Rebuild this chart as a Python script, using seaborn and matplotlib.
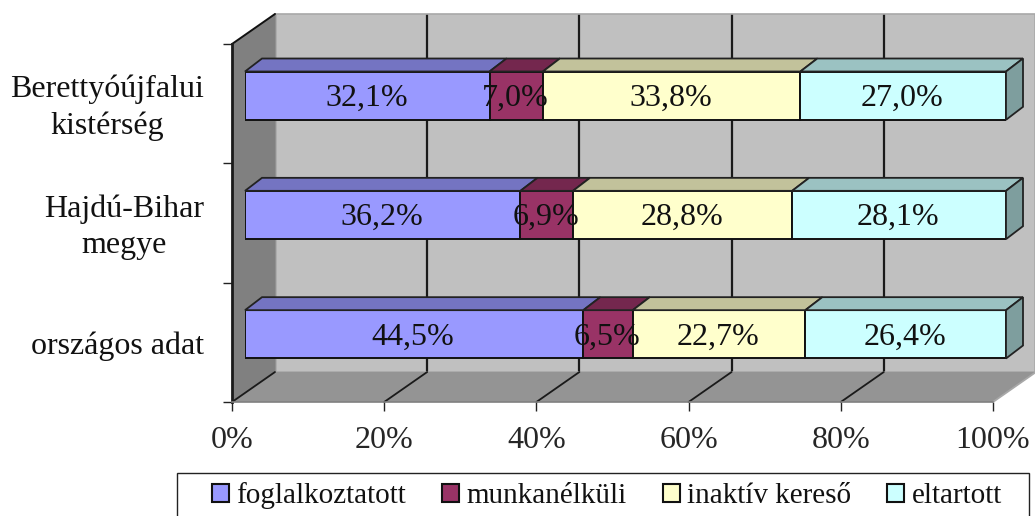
import matplotlib.pyplot as plt
import numpy as np
import seaborn as sns
from matplotlib.patches import Patch, Polygon, Rectangle
from matplotlib.transforms import IdentityTransform

categories = ['Berettyóújfalui\nkistérség', 'Hajdú-Bihar\nmegye', 'országos adat']
foglalkoztatott = [32.1, 36.2, 44.5]
munkanelkuli = [7.0, 6.9, 6.5]
inaktiv = [33.8, 28.8, 22.7]
eltartott = [27.0, 28.1, 26.4]
series_names = ['foglalkoztatott', 'munkanélküli', 'inaktív kereső', 'eltartott']
series_colors = ['#9999FF', '#993366', '#FFFFCC', '#CCFFFF']
x_ticks = [0, 20, 40, 60, 80, 100]

W, H = 1035, 516
WALL = (43, 30)  # depth of the whole box in px
BAR_SHIFT = (13, 8)  # bar front face relative to the front plane
BAR_DEPTH = (17, 13)

sns.set_theme(style='white')
plt.rcParams['font.family'] = ['Liberation Serif', 'DejaVu Serif']
plt.rcParams['text.color'] = '#111111'

fig = plt.figure(figsize=(W / 100, H / 100), dpi=100)


def make_axes(dx, dy, zorder):
    a = fig.add_axes([(232 + dx) / W, (114 + dy) / H, 761 / W, 358 / H], zorder=zorder)
    a.set_xlim(0, 100)
    a.set_ylim(2.5, -0.5)
    return a


# back wall with the gridlines
wall = make_axes(WALL[0], WALL[1], 1)
wall.set_facecolor('#C0C0C0')
wall.set_xticks(x_ticks)
wall.set_yticks([])
wall.tick_params(labelbottom=False, length=0)
wall.grid(axis='x', color='#1A1A1A', lw=1.6)
for s in wall.spines.values():
    s.set_color('#A8A8A8')
    s.set_linewidth(1.2)

# front plane: axis labels, ticks, floor and side wall
ax = make_axes(0, 0, 2)
ax.patch.set_alpha(0)
sns.despine(ax=ax, top=True, right=True)
ax.spines['left'].set_color('#1A1A1A')
ax.spines['left'].set_linewidth(2)
ax.spines['bottom'].set_color('#808080')
ax.spines['bottom'].set_linewidth(1.2)
ax.set_xticks(x_ticks)
ax.set_xticklabels([f'{t}%' for t in x_ticks])
ax.set_yticks([-0.5, 0.5, 1.5, 2.5])
ax.set_yticklabels([])
ax.tick_params(axis='both', which='major', length=6.5, width=1, color='#222222',
               bottom=True, left=True, labelsize=23, pad=10.5)
for y, label in zip([0, 1, 2], categories):
    ax.annotate(label, (0, y), xytext=(-20, -3), textcoords='offset points', ha='right', va='center',
                multialignment='center', fontsize=23, linespacing=1.3, annotation_clip=False)

x0, y0 = ax.transData.transform((0, 2.5))
x1, y1 = ax.transData.transform((100, 2.5))
xt, yt = ax.transData.transform((0, -0.5))
ax.add_patch(Polygon([(x0, y0), (x1, y1), (x1 + WALL[0], y1 + WALL[1]), (x0 + WALL[0], y0 + WALL[1])],
                     transform=IdentityTransform(), fc='#949494', ec='none', clip_on=False))
ax.add_patch(Polygon([(x0, y0), (xt, yt), (xt + WALL[0], yt + WALL[1]), (x0 + WALL[0], y0 + WALL[1])],
                     transform=IdentityTransform(), fc='#808080', ec='none', clip_on=False))
ax.plot([xt, xt + WALL[0]], [yt, yt + WALL[1]], color='#111111', lw=1.4, transform=IdentityTransform(), clip_on=False)
for t in x_ticks:
    xa, ya = ax.transData.transform((t, 2.5))
    ax.plot([xa, xa + WALL[0]], [ya, ya + WALL[1]], color='#1A1A1A' if t < 100 else '#A8A8A8', lw=1.3,
            transform=IdentityTransform(), clip_on=False)

# bars
bars = make_axes(BAR_SHIFT[0], BAR_SHIFT[1], 3)
bars.patch.set_alpha(0)

values = np.array([foglalkoztatott, munkanelkuli, inaktiv, eltartott])
shares = values / values.sum(axis=0) * 100
lefts = np.zeros(len(categories))
for i, name in enumerate(series_names):
    sns.barplot(x=shares[i], y=categories, left=lefts, orient='h', width=0.405, color=series_colors[i],
                saturation=1, edgecolor='#111111', linewidth=1.4, ax=bars)
    labels = [f'{v:.1f}%'.replace('.', ',') for v in values[i]]
    texts = bars.bar_label(bars.containers[-1], labels=labels, label_type='center', fontsize=23, color='#111111', zorder=6)
    for tx in texts:
        tx.xyann = (tx.xyann[0] - 0.7, tx.xyann[1] - 2)
    lefts = lefts + shares[i]
bars.set_xlim(0, 100)
bars.set_ylim(2.5, -0.5)
bars.axis('off')

dx, dy = BAR_DEPTH
for i, container in enumerate(bars.containers):
    rgb = np.array(plt.matplotlib.colors.to_rgb(series_colors[i]))
    for p in container:
        (xa, ya), (xb, yb) = bars.transData.transform([(p.get_x(), p.get_y()), (p.get_x() + p.get_width(), p.get_y())])
        bars.add_patch(Polygon([(xa, ya), (xb, yb), (xb + dx, yb + dy), (xa + dx, ya + dy)],
                               transform=IdentityTransform(), fc=rgb * 0.76, ec='#222222', lw=1.3, clip_on=False))
        if i == len(series_names) - 1:
            xc, yc = bars.transData.transform((p.get_x() + p.get_width(), p.get_y() + p.get_height()))
            bars.add_patch(Polygon([(xb, yb), (xc, yc), (xc + dx, yc + dy), (xb + dx, yb + dy)],
                                   transform=IdentityTransform(), fc=rgb * 0.62, ec='#222222', lw=1.3, clip_on=False))

# legend box runs off the bottom of the picture
fig.add_artist(Rectangle((177 / W, -0.02), 852 / W, 1 - 473 / H + 0.02, transform=fig.transFigure,
                         fc='white', ec='#222222', lw=1))
handles = [Patch(fc=c, ec='#111111', lw=1.5) for c in series_colors]
leg = fig.legend(handles, series_names, ncol=4, loc='upper left', bbox_to_anchor=(212 / W, 1 - 482 / H),
                 bbox_transform=fig.transFigure, fontsize=21, frameon=False,
                 handlelength=0.58, handleheight=0.58, handletextpad=0.26, columnspacing=1.23, borderpad=0,
                 borderaxespad=0)

fig.savefig('out.png', dpi=100)
